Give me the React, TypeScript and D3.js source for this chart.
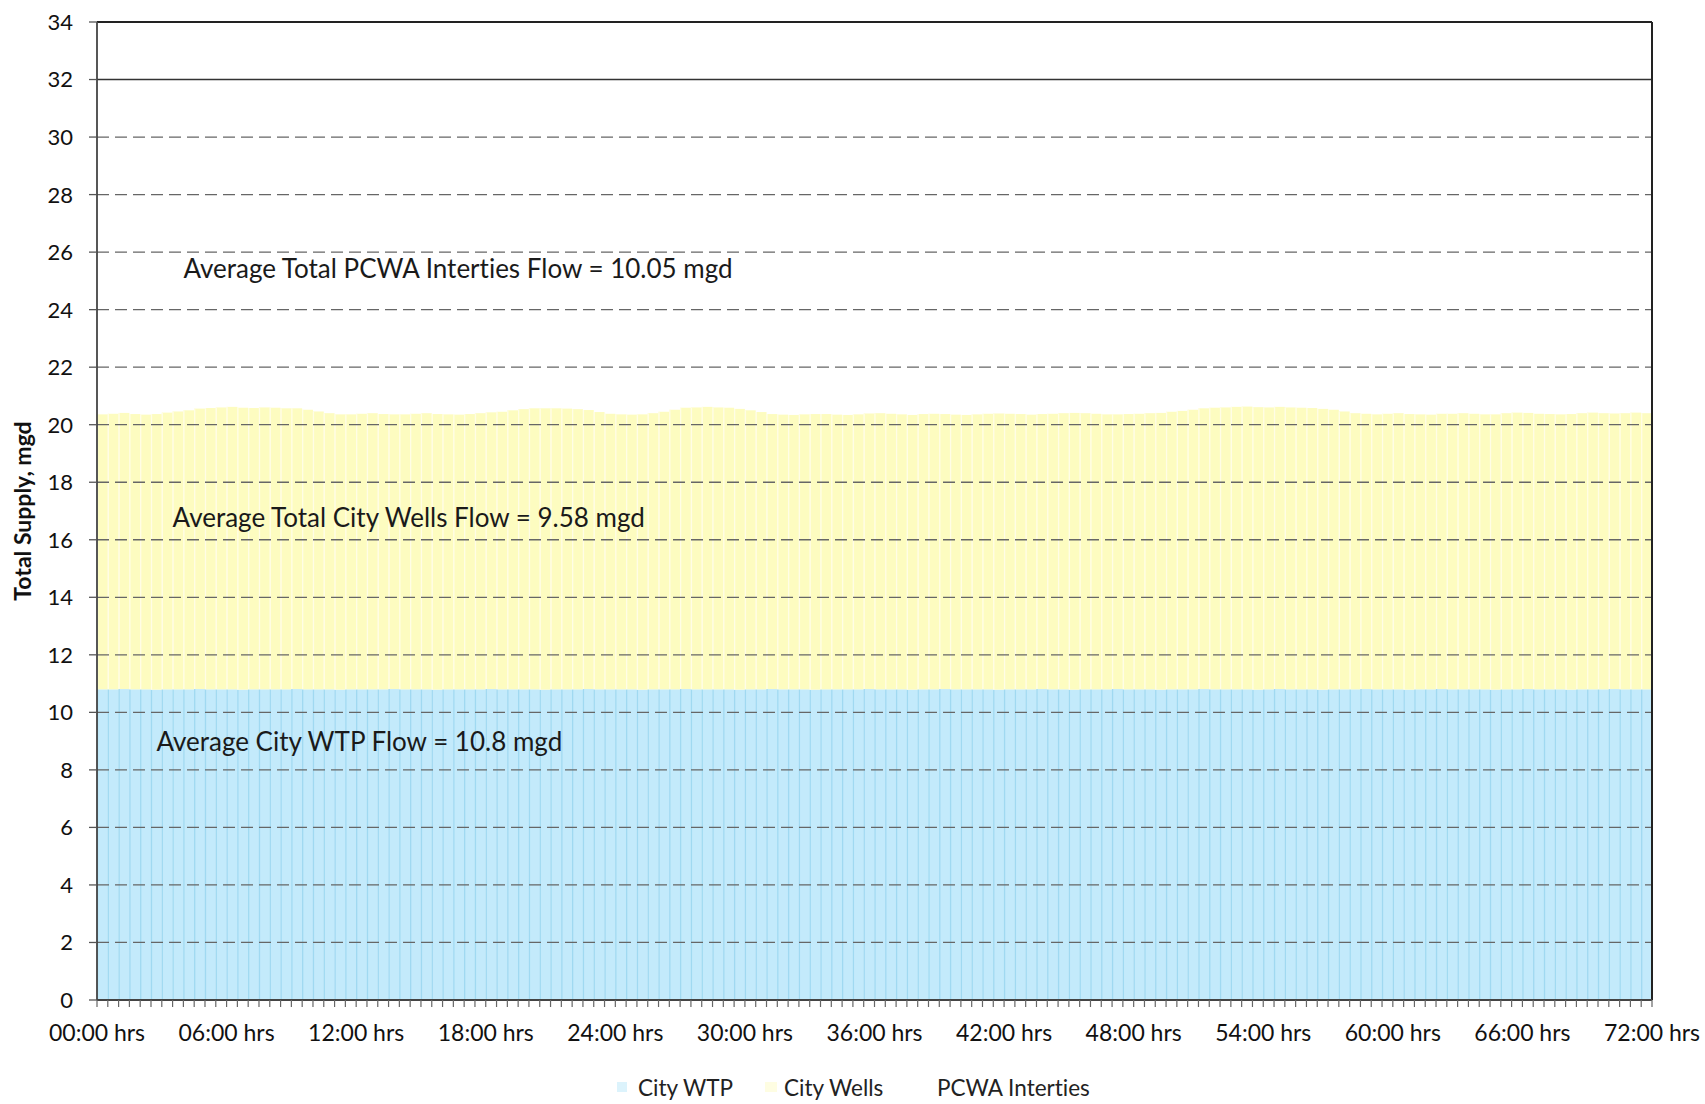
import React from "react";
import * as d3 from "d3";

// ---- Data (half-hour intervals over 72 hours) ----
const seriesNames = ["City WTP", "City Wells", "PCWA Interties"];
const timeTickLabels = [
  "00:00 hrs", "06:00 hrs", "12:00 hrs", "18:00 hrs", "24:00 hrs", "30:00 hrs", "36:00 hrs",
  "42:00 hrs", "48:00 hrs", "54:00 hrs", "60:00 hrs", "66:00 hrs", "72:00 hrs",
];
const timeTickHours = [0, 6, 12, 18, 24, 30, 36, 42, 48, 54, 60, 66, 72];
const yTickValues = [0, 2, 4, 6, 8, 10, 12, 14, 16, 18, 20, 22, 24, 26, 28, 30, 32, 34];
const annotations = [
  { text: "Average Total PCWA Interties Flow = 10.05 mgd", hour: 4.0, value: 25.1 },
  { text: "Average Total City Wells Flow = 9.58 mgd", hour: 3.5, value: 16.45 },
  { text: "Average City WTP Flow = 10.8 mgd", hour: 2.75, value: 8.65 },
];

const cityWTP = [
  10.8, 10.8, 10.81, 10.8, 10.8, 10.79, 10.8, 10.8, 10.8, 10.81, 10.8, 10.8,
  10.8, 10.79, 10.8, 10.8, 10.8, 10.8, 10.81, 10.8, 10.8, 10.8, 10.79, 10.8,
  10.8, 10.8, 10.8, 10.81, 10.8, 10.8, 10.8, 10.79, 10.8, 10.8, 10.8, 10.8,
  10.81, 10.8, 10.8, 10.8, 10.8, 10.79, 10.8, 10.8, 10.8, 10.81, 10.8, 10.8,
  10.8, 10.8, 10.79, 10.8, 10.8, 10.8, 10.81, 10.8, 10.8, 10.8, 10.8, 10.79,
  10.8, 10.8, 10.81, 10.8, 10.8, 10.8, 10.79, 10.8, 10.8, 10.8, 10.8, 10.81,
  10.8, 10.8, 10.8, 10.79, 10.8, 10.8, 10.81, 10.8, 10.8, 10.8, 10.8, 10.79,
  10.8, 10.8, 10.8, 10.81, 10.8, 10.8, 10.79, 10.8, 10.8, 10.8, 10.81, 10.8,
  10.8, 10.8, 10.79, 10.8, 10.8, 10.8, 10.81, 10.8, 10.8, 10.8, 10.8, 10.79,
  10.8, 10.81, 10.8, 10.8, 10.8, 10.79, 10.8, 10.8, 10.8, 10.81, 10.8, 10.8,
  10.8, 10.79, 10.8, 10.8, 10.81, 10.8, 10.8, 10.8, 10.8, 10.79, 10.8, 10.8,
  10.81, 10.8, 10.8, 10.8, 10.79, 10.8, 10.8, 10.8, 10.81, 10.8, 10.8, 10.8,
];

const cityWells = [
  9.56, 9.58, 9.6, 9.57, 9.55, 9.58, 9.62, 9.66, 9.7,
  9.75, 9.78, 9.8, 9.82, 9.8, 9.78, 9.8, 9.79, 9.77, 9.76, 9.72, 9.66,
  9.6, 9.57, 9.56, 9.58, 9.6, 9.57, 9.55, 9.56, 9.58, 9.6, 9.58, 9.56, 9.55, 9.57, 9.6, 9.62, 9.65, 9.7,
  9.74, 9.77, 9.78, 9.77, 9.76, 9.74, 9.7, 9.64,
  9.58, 9.56, 9.55, 9.57, 9.6, 9.65, 9.72,
  9.78, 9.8, 9.82, 9.8, 9.79, 9.76, 9.7, 9.64,
  9.56, 9.55, 9.54, 9.56, 9.58, 9.57, 9.55, 9.54, 9.56, 9.58,
  9.6, 9.58, 9.56, 9.55, 9.57, 9.58, 9.56, 9.55, 9.54, 9.56,
  9.58, 9.6, 9.58, 9.57, 9.55, 9.56, 9.58, 9.6, 9.62, 9.6,
  9.58, 9.56, 9.55, 9.57, 9.58, 9.6, 9.62, 9.65, 9.68, 9.72,
  9.76, 9.79, 9.8, 9.82, 9.83, 9.82, 9.8, 9.81, 9.8, 9.79, 9.78, 9.76, 9.72, 9.66,
  9.6, 9.57, 9.56, 9.58, 9.6, 9.58, 9.56, 9.55, 9.57, 9.58,
  9.6, 9.58, 9.56, 9.57, 9.6, 9.62, 9.6, 9.58, 9.57, 9.56,
  9.58, 9.6, 9.62, 9.6, 9.58, 9.6, 9.62, 9.6,
];

const pcwaInterties = [
  10.0, 10.05, 10.1, 10.05, 10.0, 10.05, 10.1, 10.05, 10.0, 10.05, 10.1, 10.05,
  10.05, 10.0, 10.05, 10.1, 10.05, 10.0, 10.05, 10.1, 10.05, 10.0, 10.05, 10.1,
  10.05, 10.05, 10.0, 10.05, 10.1, 10.05, 10.0, 10.05, 10.1, 10.05, 10.0, 10.05,
  10.1, 10.05, 10.0, 10.05, 10.1, 10.05, 10.05, 10.0, 10.05, 10.1, 10.05, 10.0,
  10.05, 10.1, 10.05, 10.0, 10.05, 10.1, 10.05, 10.05, 10.0, 10.05, 10.1, 10.05,
  10.0, 10.05, 10.1, 10.05, 10.0, 10.05, 10.1, 10.05, 10.05, 10.0, 10.05, 10.1,
  10.05, 10.0, 10.05, 10.1, 10.05, 10.0, 10.05, 10.1, 10.05, 10.05, 10.0, 10.05,
  10.1, 10.05, 10.0, 10.05, 10.1, 10.05, 10.0, 10.05, 10.1, 10.05, 10.05, 10.0,
  10.05, 10.1, 10.05, 10.0, 10.05, 10.1, 10.05, 10.0, 10.05, 10.1, 10.05, 10.05,
  10.0, 10.05, 10.1, 10.05, 10.0, 10.05, 10.1, 10.05, 10.0, 10.05, 10.1, 10.05,
  10.05, 10.0, 10.05, 10.1, 10.05, 10.0, 10.05, 10.1, 10.05, 10.0, 10.05, 10.1,
  10.05, 10.05, 10.0, 10.05, 10.1, 10.05, 10.0, 10.05, 10.1, 10.05, 10.0, 10.05,
];

const SLOT_HOURS = 0.5;

// ---- Layout ----
const W = 1705;
const H = 1104;
const M = { left: 97, right: 1652, top: 22, bottom: 1000 };
const FONT = "Lato, 'Open Sans', sans-serif";

const seriesFill = ["#c3eafb", "#fdfcc0", "none"];
const seriesLine = ["#a0d9f1", "#fffde6", "none"];

export default function App() {
  const x = d3.scaleLinear().domain([0, 72]).range([M.left, M.right]);
  const y = d3.scaleLinear().domain([0, 34]).range([M.bottom, M.top]);

  const table = cityWTP.map((v, i) => ({
    t: i * SLOT_HOURS,
    "City WTP": v,
    "City Wells": cityWells[i] ?? 0,
    "PCWA Interties": pcwaInterties[i] ?? 0,
  }));
  const stacked = d3.stack<any>().keys(seriesNames)(table);

  const minorTicks = d3.range(0, 72 + 1e-9, SLOT_HOURS);

  return (
    <svg
      width={W}
      height={H}
      viewBox={`0 0 ${W} ${H}`}
      style={{
        position: "absolute",
        left: 0,
        top: 0,
        background: "#fff",
        display: "block",
        fontVariantLigatures: "none",
      }}
    >
      <rect x={0} y={0} width={W} height={H} fill="#fff" />

      {/* bars */}
      {stacked.map((layer, si) =>
        seriesFill[si] === "none" ? null : (
          <g key={seriesNames[si]}>
            {layer.map((d, i) => {
              const x0 = x(d.data.t);
              const x1 = x(d.data.t + SLOT_HOURS);
              const yTop = y(d[1]);
              const yBot = y(d[0]);
              return (
                <g key={i}>
                  <rect x={x0} y={yTop} width={x1 - x0} height={yBot - yTop} fill={seriesFill[si]} />
                  <line x1={x0 + 0.5} x2={x0 + 0.5} y1={yTop} y2={yBot} stroke={seriesLine[si]} strokeWidth={1.3} />
                </g>
              );
            })}
          </g>
        )
      )}

      {/* horizontal gridlines */}
      {yTickValues.map((v) => {
        if (v === 0 || v === 34) return null;
        const solid = v === 32;
        return (
          <line
            key={v}
            x1={M.left}
            x2={M.right}
            y1={y(v)}
            y2={y(v)}
            stroke={solid ? "#333" : "#666"}
            strokeWidth={solid ? 1.5 : 1.3}
            strokeDasharray={solid ? undefined : "12,6"}
          />
        );
      })}

      {/* plot border */}
      <line x1={M.left} x2={M.right} y1={y(34)} y2={y(34)} stroke="#222" strokeWidth={2} />
      <line x1={M.left} x2={M.left} y1={M.top} y2={M.bottom} stroke="#444" strokeWidth={1.8} />
      <line x1={M.right} x2={M.right} y1={M.top} y2={M.bottom} stroke="#222" strokeWidth={2} />
      <line x1={M.left} x2={M.right} y1={M.bottom} y2={M.bottom} stroke="#444" strokeWidth={1.8} />

      {/* y ticks and labels */}
      {yTickValues.map((v) => (
        <g key={"yt" + v}>
          <line x1={M.left - 8} x2={M.left} y1={y(v)} y2={y(v)} stroke="#555" strokeWidth={1.3} />
          <text
            x={73}
            y={y(v)}
            dy="0.36em"
            textAnchor="end"
            fontFamily={FONT}
            fontSize={22}
            fill="#111"
          >
            {v}
          </text>
        </g>
      ))}

      {/* x minor ticks */}
      {minorTicks.map((t, i) => (
        <line key={"xt" + i} x1={x(t)} x2={x(t)} y1={M.bottom} y2={M.bottom + 7} stroke="#666" strokeWidth={1.2} />
      ))}

      {/* x labels */}
      {timeTickLabels.map((lab, i) => (
        <text
          key={lab}
          x={x(timeTickHours[i])}
          y={1041}
          textAnchor="middle"
          fontFamily={FONT}
          fontSize={23}
          fill="#111"
        >
          {lab}
        </text>
      ))}

      {/* y axis title */}
      <text
        transform={`translate(31, ${(M.top + M.bottom) / 2}) rotate(-90)`}
        textAnchor="middle"
        fontFamily={FONT}
        fontWeight="bold"
        fontSize={23}
        fill="#111"
      >
        Total Supply, mgd
      </text>

      {/* annotations */}
      {annotations.map((a) => (
        <text
          key={a.text}
          x={x(a.hour)}
          y={y(a.value)}
          fontFamily={FONT}
          fontSize={26}
          fill="#1a1a1a"
        >
          {a.text}
        </text>
      ))}

      {/* legend */}
      <g fontFamily={FONT} fontSize={22.5} fill="#222">
        <rect x={617} y={1082} width={10} height={10} fill="#dcf3fc" />
        <text x={638} y={1096}>{seriesNames[0]}</text>
        <rect x={765} y={1082} width={12} height={10} fill="#fefde2" />
        <text x={784} y={1096}>{seriesNames[1]}</text>
        <text x={937} y={1096}>{seriesNames[2]}</text>
      </g>
    </svg>
  );
}
